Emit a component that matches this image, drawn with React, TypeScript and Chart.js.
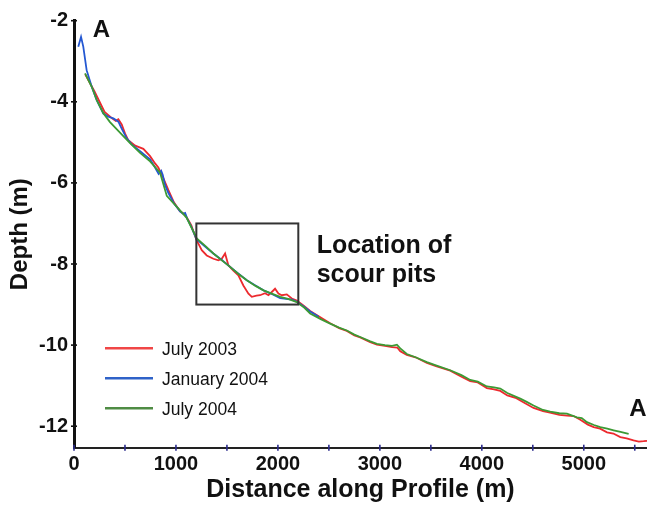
import React, { useEffect, useRef } from "react";
import { Chart, registerables } from "chart.js";

Chart.register(...registerables);

// ---- data ----
const seriesNames = ["July 2003", "January 2004", "July 2004"];

const july2003Distance = [110, 200, 300, 380, 410, 435, 468, 500, 533, 600,
  680, 746, 795, 827, 876, 926, 980, 1040, 1090, 1150,
  1200, 1253, 1302, 1367, 1416, 1449, 1482, 1514, 1563, 1612,
  1661, 1711, 1744, 1790, 1825, 1874, 1907, 1940, 1972, 2005,
  2038, 2087, 2136, 2185, 2250, 2316, 2420, 2512, 2600, 2676,
  2750, 2807, 2900, 2971, 3050, 3120, 3170, 3200, 3264, 3350,
  3461, 3550, 3690, 3800, 3886, 3960, 4050, 4120, 4181, 4250,
  4330, 4420, 4507, 4600, 4680, 4760, 4835, 4900, 4966, 5040,
  5097, 5160, 5228, 5290, 5358, 5420, 5488, 5540, 5587, 5620];
const july2003Depth = [-3.32, -3.74, -4.25, -4.42, -4.47, -4.43, -4.56, -4.78, -4.95, -5.08,
  -5.16, -5.34, -5.52, -5.62, -5.88, -6.18, -6.48, -6.70, -6.78, -7.04,
  -7.40, -7.66, -7.79, -7.87, -7.91, -7.87, -7.74, -8.03, -8.16, -8.28,
  -8.53, -8.73, -8.81, -8.78, -8.77, -8.72, -8.77, -8.69, -8.61, -8.73,
  -8.77, -8.75, -8.85, -8.90, -9.02, -9.16, -9.32, -9.46, -9.58, -9.65,
  -9.76, -9.81, -9.92, -9.99, -10.02, -10.05, -10.06, -10.15, -10.24, -10.30,
  -10.44, -10.52, -10.63, -10.78, -10.89, -10.92, -11.06, -11.09, -11.13, -11.24,
  -11.30, -11.43, -11.55, -11.63, -11.67, -11.72, -11.74, -11.75, -11.84, -11.96,
  -12.02, -12.06, -12.15, -12.18, -12.27, -12.30, -12.35, -12.38, -12.37, -12.36];

const jan2004Distance = [42, 69, 91, 124, 174, 223, 288, 337, 386, 435,
  468, 517, 566, 648, 746, 795, 830, 855, 870, 893,
  926, 980, 1040, 1070, 1090, 1110, 1150, 1200, 1280, 1367,
  1450, 1531, 1610, 1695, 1780, 1859, 1940, 2022, 2080, 2140,
  2185, 2250, 2316, 2400];
const jan2004Depth = [-2.64, -2.40, -2.64, -3.22, -3.63, -3.96, -4.29, -4.37, -4.41, -4.49,
  -4.66, -4.90, -5.05, -5.22, -5.42, -5.62, -5.78, -5.70, -5.80, -6.05,
  -6.25, -6.50, -6.70, -6.76, -6.74, -6.88, -7.08, -7.38, -7.56, -7.74,
  -7.90, -8.07, -8.23, -8.40, -8.53, -8.65, -8.74, -8.84, -8.86, -8.88,
  -8.93, -9.04, -9.17, -9.30];

const july2004Distance = [108, 174, 223, 288, 353, 451, 550, 648, 746, 844,
  910, 1040, 1105, 1204, 1290, 1367, 1450, 1531, 1610, 1695,
  1780, 1859, 1940, 2022, 2100, 2185, 2260, 2316, 2420, 2512,
  2600, 2676, 2750, 2807, 2900, 2971, 3050, 3120, 3167, 3200,
  3264, 3350, 3461, 3550, 3690, 3800, 3886, 3960, 4050, 4120,
  4181, 4250, 4377, 4440, 4507, 4600, 4671, 4760, 4835, 4933,
  4980, 5031, 5100, 5162, 5230, 5293, 5360, 5440];
const july2004Depth = [-3.30, -3.63, -3.96, -4.28, -4.50, -4.76, -5.02, -5.26, -5.47, -5.75,
  -6.32, -6.68, -6.86, -7.37, -7.56, -7.74, -7.91, -8.07, -8.24, -8.40,
  -8.54, -8.65, -8.73, -8.81, -8.86, -8.94, -9.08, -9.22, -9.36, -9.47,
  -9.57, -9.64, -9.74, -9.80, -9.90, -9.97, -10.00, -10.02, -9.99, -10.08,
  -10.22, -10.30, -10.42, -10.50, -10.62, -10.74, -10.86, -10.90, -11.02, -11.04,
  -11.07, -11.18, -11.32, -11.40, -11.49, -11.60, -11.64, -11.68, -11.69, -11.78,
  -11.80, -11.90, -11.97, -12.02, -12.06, -12.10, -12.14, -12.19];

const xTickValues = [0, 500, 1000, 1500, 2000, 2500, 3000, 3500, 4000, 4500, 5000, 5500];
const xLabelStep = 1000;
const yTickValues = [-12, -10, -8, -6, -4, -2];

const xRange = { min: 0, max: 5620 };
const yRange = { min: -12.53, max: -2 };

// annotation anchors (data units)
const scourBox = { x0: 1200, x1: 2200, y0: -7, y1: -9 };
const scourLabelLines = ["Location of", "scour pits"];
const scourLabelAnchor = { x: 2380, y: [-7.72, -8.44] };
const profileMarks = [
  { text: "A", x: 184, y: -2.41 },
  { text: "A", x: 5447, y: -11.76 },
];

// ---- styles ----
const FONT = "'Liberation Sans', Arial, Helvetica, sans-serif";
const lineColors = ["#ec2a2e", "#2458d2", "#3c9a34"];
const legendColors = ["#f04646", "#2f62c8", "#4f8c44"];

const toPoints = (xs: number[], ys: number[]) => xs.map((x, i) => ({ x, y: ys[i] }));

const decorPlugin = {
  id: "decor",
  afterDraw(chart: any) {
    const { ctx, chartArea, scales } = chart;
    const sx = scales.x;
    const sy = scales.y;
    ctx.save();

    // scour box
    const bx0 = sx.getPixelForValue(scourBox.x0);
    const bx1 = sx.getPixelForValue(scourBox.x1);
    const by0 = sy.getPixelForValue(scourBox.y0);
    const by1 = sy.getPixelForValue(scourBox.y1);
    ctx.strokeStyle = "#333";
    ctx.lineWidth = 2;
    ctx.strokeRect(bx0, by0, bx1 - bx0, by1 - by0);

    // scour label
    ctx.fillStyle = "#111";
    ctx.textBaseline = "alphabetic";
    ctx.textAlign = "left";
    ctx.font = `bold 25px ${FONT}`;
    scourLabelLines.forEach((t, i) => {
      ctx.fillText(t, sx.getPixelForValue(scourLabelAnchor.x), sy.getPixelForValue(scourLabelAnchor.y[i]));
    });

    // A marks
    ctx.font = `bold 24px ${FONT}`;
    profileMarks.forEach((m) => {
      ctx.fillText(m.text, sx.getPixelForValue(m.x), sy.getPixelForValue(m.y));
    });

    // legend
    const lx0 = chartArea.left + 31;
    const lx1 = chartArea.left + 79;
    const ly0 = chartArea.top + 327.6;
    ctx.font = `17.5px ${FONT}`;
    ctx.textBaseline = "middle";
    seriesNames.forEach((name, i) => {
      const y = ly0 + i * 30;
      ctx.strokeStyle = legendColors[i];
      ctx.lineWidth = 2.6;
      ctx.beginPath();
      ctx.moveTo(lx0, y);
      ctx.lineTo(lx1, y);
      ctx.stroke();
      ctx.fillStyle = "#111";
      ctx.fillText(name, chartArea.left + 88, y + 1.5);
    });

    // tick marks
    ctx.strokeStyle = "#2b2b8c";
    ctx.lineWidth = 1.6;
    xTickValues.forEach((v) => {
      const x = sx.getPixelForValue(v);
      ctx.beginPath();
      ctx.moveTo(x, chartArea.bottom - 3);
      ctx.lineTo(x, chartArea.bottom + 3);
      ctx.stroke();
    });
    ctx.strokeStyle = "#111";
    ctx.lineWidth = 1.6;
    yTickValues.forEach((v) => {
      const y = sy.getPixelForValue(v);
      ctx.beginPath();
      ctx.moveTo(chartArea.left - 3, y);
      ctx.lineTo(chartArea.left + 3, y);
      ctx.stroke();
    });
    ctx.restore();
  },
};

export default function App() {
  const canvasRef = useRef<HTMLCanvasElement | null>(null);

  useEffect(() => {
    document.body.style.margin = "0";
    const canvas = canvasRef.current;
    if (!canvas) return;
    const series = [
      toPoints(july2003Distance, july2003Depth),
      toPoints(jan2004Distance, jan2004Depth),
      toPoints(july2004Distance, july2004Depth),
    ];
    const chart = new Chart(canvas, {
      type: "line",
      data: {
        datasets: series.map((data, i) => ({
          label: seriesNames[i],
          data,
          borderColor: lineColors[i],
          backgroundColor: lineColors[i],
          borderWidth: 1.8,
          pointRadius: 0,
          tension: 0,
          fill: false,
          order: 3 - i,
        })),
      },
      options: {
        responsive: false,
        animation: false,
        devicePixelRatio: 1,
        layout: { padding: { top: 20.7, right: 0, left: 0, bottom: 0 } },
        plugins: {
          legend: { display: false },
          tooltip: { enabled: false },
        },
        scales: {
          x: {
            type: "linear",
            min: xRange.min,
            max: xRange.max,
            afterBuildTicks: (scale: any) => {
              scale.ticks = xTickValues.map((value) => ({ value }));
            },
            afterFit: (scale: any) => {
              scale.height = 58.3;
            },
            grid: { display: false, drawTicks: false },
            border: { display: true, color: "#222", width: 2 },
            ticks: {
              padding: 5,
              color: "#111",
              font: { family: FONT, size: 20, weight: "bold" },
              maxRotation: 0,
              autoSkip: false,
              callback: (v: any) => (Number(v) % xLabelStep === 0 ? String(v) : ""),
            },
            title: {
              display: true,
              text: "Distance along Profile (m)",
              color: "#111",
              font: { family: FONT, size: 25, weight: "bold" },
              padding: { top: 0, bottom: 1 },
            },
          },
          y: {
            type: "linear",
            min: yRange.min,
            max: yRange.max,
            afterBuildTicks: (scale: any) => {
              scale.ticks = yTickValues.map((value) => ({ value }));
            },
            afterFit: (scale: any) => {
              scale.width = 74;
            },
            grid: { display: false, drawTicks: false },
            border: { display: true, color: "#111", width: 3 },
            ticks: {
              padding: 6,
              color: "#111",
              font: { family: FONT, size: 20, weight: "bold" },
              autoSkip: false,
              callback: (v: any) => String(v),
            },
            title: {
              display: true,
              text: "Depth (m)",
              color: "#111",
              font: { family: FONT, size: 24, weight: "bold" },
              padding: { top: 6, bottom: 0 },
            },
          },
        },
      },
      plugins: [decorPlugin],
    } as any);
    return () => chart.destroy();
  }, []);

  return (
    <div style={{ width: 647, height: 506, background: "#fff" }}>
      <canvas ref={canvasRef} width={647} height={506} style={{ display: "block" }} />
    </div>
  );
}
